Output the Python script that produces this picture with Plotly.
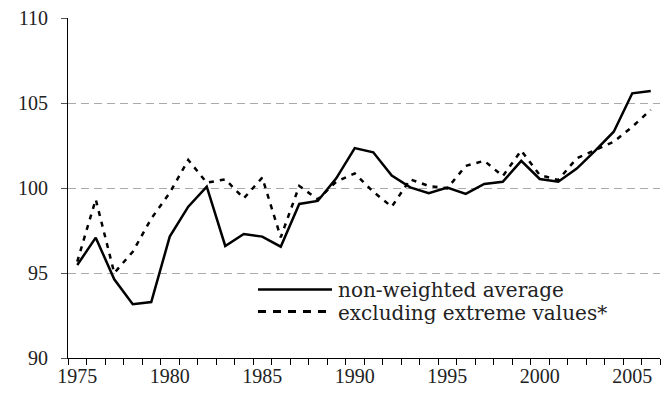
import plotly.graph_objects as go

years = list(range(1975, 2007))
non_weighted = [95.47, 97.08, 94.63, 93.16, 93.29, 97.14, 98.90, 100.08, 96.59, 97.29,
                97.14, 96.55, 99.06, 99.24, 100.57, 102.35, 102.10, 100.73, 100.04, 99.69,
                100.02, 99.65, 100.24, 100.37, 101.60, 100.53, 100.37, 101.14, 102.20, 103.31,
                105.57, 105.70]
excluding_extreme = [95.67, 99.33, 95.00, 96.25, 98.20, 99.72, 101.65, 100.31, 100.51, 99.39,
                     100.61, 97.10, 100.12, 99.33, 100.37, 100.86, 99.78, 98.90, 100.51, 100.12,
                     99.98, 101.30, 101.60, 100.70, 102.20, 100.76, 100.47, 101.75, 102.23, 102.72,
                     103.60, 104.60]
label_years = [1975, 1980, 1985, 1990, 1995, 2000, 2005]
y_ticks = [90, 95, 100, 105, 110]
legend_labels = ["non-weighted average", "excluding extreme values*"]

TICK_FONT = "'Liberation Serif', 'Times New Roman', Times, serif"
LEG_FONT = "'DejaVu Serif', serif"

fig = go.Figure()
fig.add_trace(go.Scatter(x=years, y=non_weighted, mode="lines",
                         line=dict(color="black", width=2.5), name=legend_labels[0],
                         showlegend=False))
fig.add_trace(go.Scatter(x=years, y=excluding_extreme, mode="lines",
                         line=dict(color="black", width=2.5, dash="5px,6px"),
                         name=legend_labels[1], showlegend=False))

# manual legend (positions in screen pixels of the plot area, converted to paper units)
W0, W1, H0, H1 = 68, 660, 18, 358
def px(xp):
    return (xp - W0) / (W1 - W0)
def py(yp):
    return (H1 - yp) / (H1 - H0)

fig.add_shape(type="line", xref="paper", yref="paper", x0=px(258), x1=px(332),
              y0=py(289.5), y1=py(289.5), line=dict(color="black", width=2.5))
fig.add_shape(type="line", xref="paper", yref="paper", x0=px(258), x1=px(332),
              y0=py(311.5), y1=py(311.5), line=dict(color="black", width=3, dash="8px,7px"))
fig.add_annotation(xref="paper", yref="paper", x=px(336), y=py(290), text=legend_labels[0],
                   showarrow=False, xanchor="left", yanchor="middle",
                   font=dict(family=LEG_FONT, size=20, color="#222"))
fig.add_annotation(xref="paper", yref="paper", x=px(336), y=py(313), text=legend_labels[1],
                   showarrow=False, xanchor="left", yanchor="middle",
                   font=dict(family=LEG_FONT, size=20, color="#222"))

# the page body adds an 8px offset, so the figure is 8px smaller and margins shifted
fig.update_layout(
    width=664, height=392, autosize=False,
    margin=dict(l=60, r=12, t=10, b=42, autoexpand=False),
    plot_bgcolor="white", paper_bgcolor="white",
    font=dict(family=TICK_FONT, size=20, color="#222"),
    showlegend=False,
)
fig.update_xaxes(
    range=[1974.5, 2006.5], tickvals=label_years, ticktext=[str(y) for y in label_years],
    ticks="", showgrid=False, showline=True, linecolor="black", linewidth=1,
    zeroline=False, ticklabelstandoff=0, automargin=False, ticklabeloverflow="allow",
    minor=dict(tickvals=[y - 0.5 for y in years] + [2006.5], ticks="outside", ticklen=6,
               tickcolor="black", tickwidth=1, showgrid=False),
)
fig.update_yaxes(
    range=[90, 110], tickvals=y_ticks, ticks="outside", ticklen=6, tickcolor="#555",
    showline=True, linecolor="black", linewidth=1, zeroline=False, automargin=False,
    showgrid=True, gridcolor="#aaaaaa", gridwidth=1, griddash="8px,5px",
    ticklabelstandoff=9, ticklabeloverflow="allow",
)

fig.write_html("out.html")
